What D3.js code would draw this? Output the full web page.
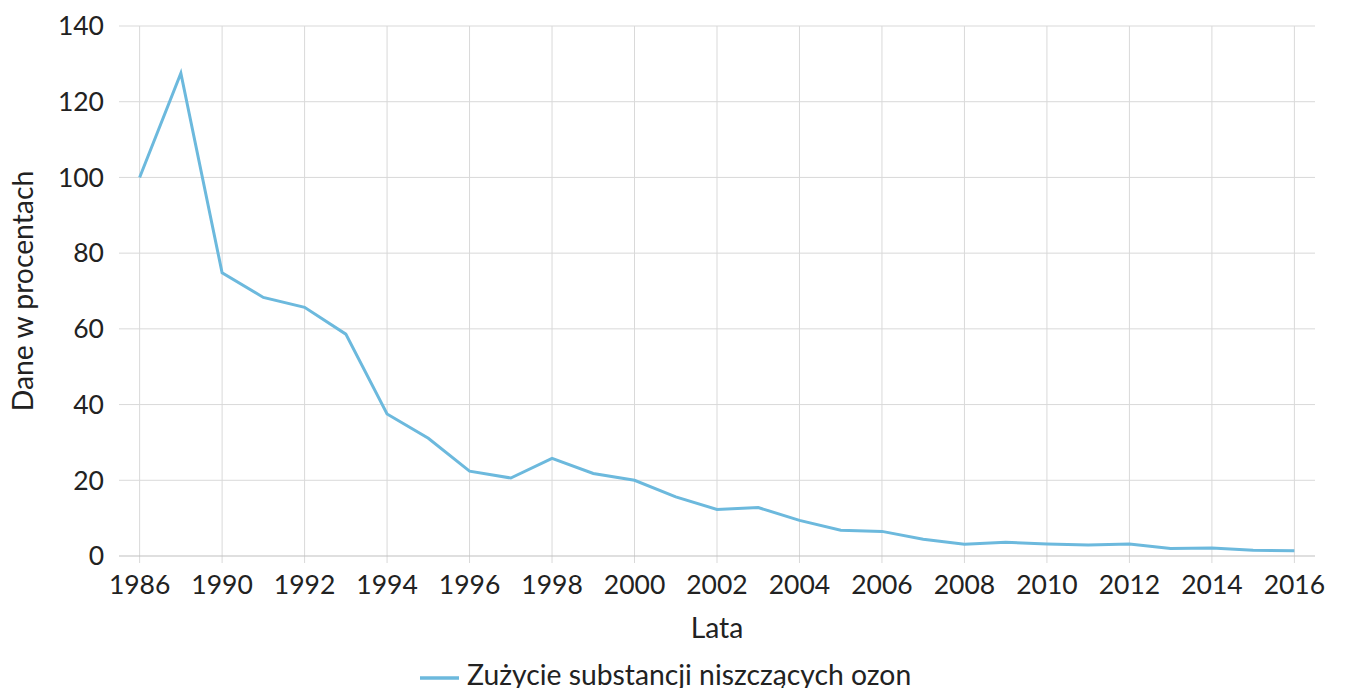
<!DOCTYPE html>
<html><head><meta charset="utf-8">
<script src="https://cdn.jsdelivr.net/npm/d3@7"></script>
<style>body{margin:0;background:#fff}svg{display:block}text{font-family:Lato,"DejaVu Sans",sans-serif;fill:#222}</style>
</head><body><svg id="c" width="1345" height="688"></svg>
<script>
const years = ["1986","1989","1990","1991","1992","1993","1994","1995","1996","1997","1998","1999","2000","2001","2002","2003","2004","2005","2006","2007","2008","2009","2010","2011","2012","2013","2014","2015","2016"];
const values = [100,127.5,74.8,68.3,65.7,58.6,37.5,31.1,22.4,20.6,25.8,21.8,20.0,15.6,12.3,12.8,9.4,6.8,6.5,4.4,3.1,3.6,3.2,2.9,3.2,2.0,2.1,1.5,1.4];
const yTicks = [0,20,40,60,80,100,120,140];
const xLabels = years.filter((d,i)=>i%2===0);
const seriesName = "Zużycie substancji niszczących ozon";
const xTitle = "Lata", yTitle = "Dane w procentach";

const L=119,R=1315,T=26,B=556, FS=26.5, FT=28.3;
const svg=d3.select("#c");
const x=d3.scalePoint().domain(years).range([L,R]).padding(0.5);
const y=d3.scaleLinear().domain([0,140]).range([B,T]);

// horizontal grid
svg.append("g").selectAll("line").data(yTicks.filter(v=>v>0)).join("line")
  .attr("x1",L).attr("x2",R).attr("y1",d=>y(d)).attr("y2",d=>y(d))
  .attr("stroke","#d9d9d9").attr("stroke-width",1);
// vertical grid
svg.append("g").selectAll("line").data(xLabels).join("line")
  .attr("x1",d=>x(d)).attr("x2",d=>x(d)).attr("y1",T).attr("y2",B+7)
  .attr("stroke","#d9d9d9").attr("stroke-width",1);
// bottom axis line
svg.append("line").attr("x1",L).attr("x2",R).attr("y1",B).attr("y2",B).attr("stroke","#bfbfbf").attr("stroke-width",1.2);

// y tick labels
svg.append("g").selectAll("text").data(yTicks).join("text")
  .attr("x",104).attr("y",d=>y(d)).attr("dy","0.35em").attr("text-anchor","end")
  .attr("font-size",FS).text(d=>d);
// x tick labels
svg.append("g").selectAll("text").data(xLabels).join("text")
  .attr("x",d=>x(d)).attr("y",594).attr("text-anchor","middle")
  .attr("font-size",FS).text(d=>d);

// titles
svg.append("text").attr("x",(L+R)/2).attr("y",638).attr("text-anchor","middle").attr("font-size",FT).text(xTitle);
svg.append("text").attr("transform",`translate(33,${(T+B)/2}) rotate(-90)`).attr("text-anchor","middle").attr("font-size",FT).text(yTitle);

// line
const line=d3.line().x((d,i)=>x(years[i])).y(d=>y(d));
svg.append("path").datum(values).attr("d",line).attr("fill","none")
  .attr("stroke","#6cb9dd").attr("stroke-width",3).attr("stroke-linejoin","miter");

// legend
svg.append("line").attr("x1",420).attr("x2",459).attr("y1",678).attr("y2",678).attr("stroke","#6cb9dd").attr("stroke-width",3.5);
svg.append("text").attr("x",467).attr("y",685).attr("font-size",FT).text(seriesName);
</script></body></html>
